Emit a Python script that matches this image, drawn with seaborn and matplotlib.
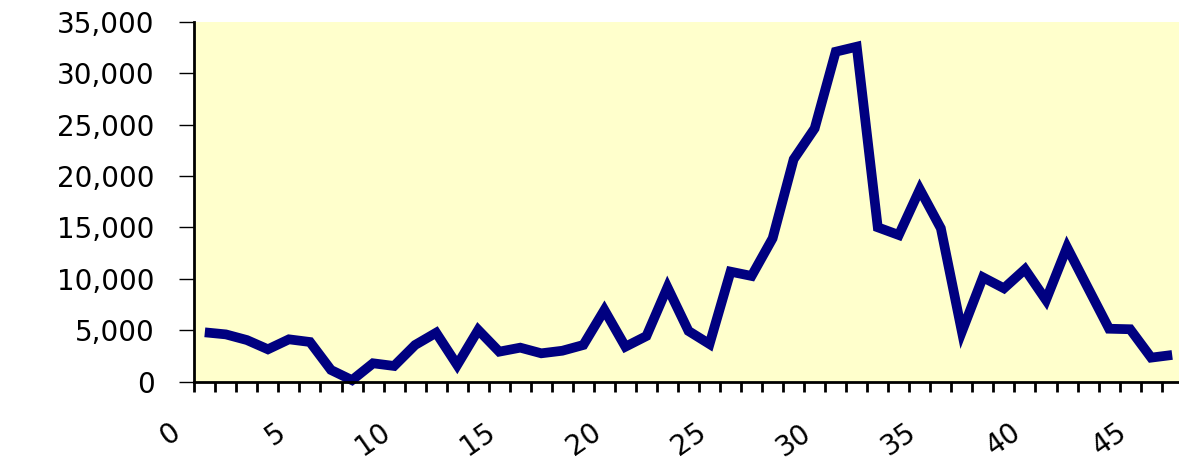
import numpy as np
import pandas as pd
import matplotlib
matplotlib.use("Agg")
import matplotlib.pyplot as plt
import matplotlib.ticker as mticker
from matplotlib.transforms import ScaledTranslation
import seaborn as sns

# Weekly counts, one value per period (period index starts at 0)
counts = [4800, 4600, 4050, 3150, 4120, 3860, 1140, 150, 1790, 1530,
          3570, 4760, 1620, 5030, 2920, 3310, 2760, 3010, 3570, 6970,
          3400, 4440, 9180, 4930, 3660, 10700, 10280, 13940, 21620, 24630,
          32080, 32570, 15010, 14260, 18700, 14910, 4860, 10150, 9080, 10930,
          7940, 13070, 9100, 5150, 5100, 2340, 2600]
x_tick_labels = ["0", "5", "10", "15", "20", "25", "30", "35", "40", "45"]
y_ticks = [0, 5000, 10000, 15000, 20000, 25000, 30000, 35000]

df = pd.DataFrame({"period": np.arange(len(counts)) + 0.5, "count": counts})

sns.set_style("ticks")
plt.rcParams["font.family"] = ["DejaVu Sans"]
plt.rcParams["text.color"] = "black"
plt.rcParams["xtick.labelcolor"] = "black"
plt.rcParams["ytick.labelcolor"] = "black"

W, H, DPI = 1179, 463, 100
fig = plt.figure(figsize=(W / DPI, H / DPI), dpi=DPI, facecolor="white")
left_px, right_px, bottom_px, top_px = 194.3, 1182.7, 81.3, 441.3
ax = fig.add_axes([left_px / W, bottom_px / H,
                   (right_px - left_px) / W, (top_px - bottom_px) / H])
ax.set_facecolor("#FFFFCC")

sns.lineplot(data=df, x="period", y="count", ax=ax, color="#000080",
             linewidth=7, solid_joinstyle="miter", solid_capstyle="butt",
             clip_on=False)

ax.set_xlim(0, 47)
ax.set_ylim(0, 35000)
ax.set_xlabel("")
ax.set_ylabel("")

# x axis: a tick at every period, labels every fifth
ax.set_xticks(np.arange(0, 48))
label_map = {int(t): t for t in x_tick_labels}
ax.set_xticklabels([label_map.get(i, "") for i in range(48)])
ax.tick_params(axis="x", direction="out", length=7.5, width=2.0,
               color="black", pad=27, labelsize=20, labelcolor="black")
shift = ScaledTranslation(-17 / DPI, 0, fig.dpi_scale_trans)
for lab in ax.get_xticklabels():
    lab.set_rotation(35)
    lab.set_ha("right")
    lab.set_va("center")
    lab.set_rotation_mode("anchor")
    lab.set_transform(lab.get_transform() + shift)

ax.set_yticks(y_ticks)
ax.yaxis.set_major_formatter(mticker.StrMethodFormatter("{x:,.0f}"))
ax.tick_params(axis="y", direction="out", length=10.5, width=1.0,
               color="black", pad=18, labelsize=20, labelcolor="black")

for side in ("top", "right"):
    ax.spines[side].set_visible(False)
for side in ("left", "bottom"):
    ax.spines[side].set_linewidth(2.0)
    ax.spines[side].set_color("black")

fig.savefig("out.png", dpi=DPI, facecolor="white")
